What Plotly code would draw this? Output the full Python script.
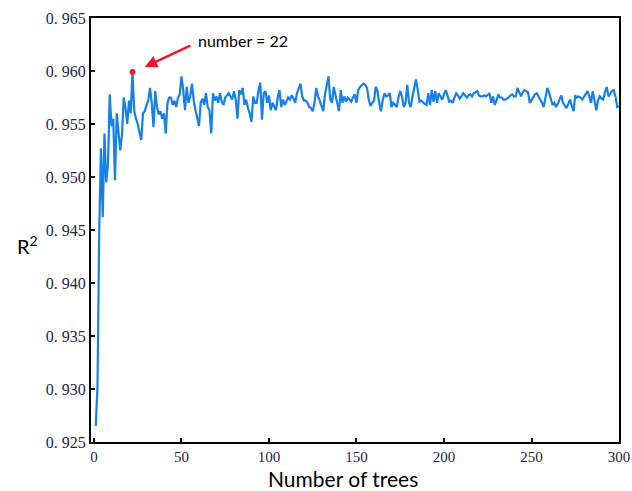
import plotly.graph_objects as go

trees = list(range(1, 301))
r2 = [
    0.9265, 0.9302, 0.9450, 0.9527, 0.9462, 0.9541, 0.9495, 0.9512, 0.9578, 0.9548,
    0.9555, 0.9497, 0.9560, 0.9545, 0.9525, 0.9540, 0.9575, 0.9565, 0.9550, 0.9572,
    0.9560, 0.9599, 0.9562, 0.9555, 0.9550, 0.9542, 0.9535, 0.9560, 0.9562, 0.9568,
    0.9572, 0.9584, 0.9570, 0.9547, 0.9581, 0.9566, 0.9559, 0.9562, 0.9555, 0.9560,
    0.9541, 0.9570, 0.9575, 0.9575, 0.9568, 0.9572, 0.9566, 0.9575, 0.9578, 0.9595,
    0.9582, 0.9563, 0.9585, 0.9570, 0.9576, 0.9588, 0.9572, 0.9563, 0.9555, 0.9548,
    0.9570, 0.9574, 0.9568, 0.9579, 0.9566, 0.9563, 0.9541, 0.9579, 0.9572, 0.9576,
    0.9570, 0.9579, 0.9571, 0.9568, 0.9575, 0.9577, 0.9579, 0.9576, 0.9573, 0.9581,
    0.9573, 0.9555, 0.9582, 0.9578, 0.9584, 0.9568, 0.9573, 0.9565, 0.9560, 0.9552,
    0.9576, 0.9570, 0.9570, 0.9582, 0.9589, 0.9554, 0.9579, 0.9581, 0.9570, 0.9577,
    0.9563, 0.9570, 0.9566, 0.9563, 0.9575, 0.9582, 0.9566, 0.9573, 0.9568, 0.9571,
    0.9575, 0.9573, 0.9577, 0.9574, 0.9570, 0.9579, 0.9584, 0.9588, 0.9576, 0.9572,
    0.9572, 0.9570, 0.9566, 0.9565, 0.9562, 0.9570, 0.9584, 0.9576, 0.9572, 0.9566,
    0.9562, 0.9578, 0.9586, 0.9595, 0.9573, 0.9570, 0.9585, 0.9578, 0.9570, 0.9562,
    0.9582, 0.9570, 0.9576, 0.9571, 0.9575, 0.9573, 0.9571, 0.9575, 0.9578, 0.9570,
    0.9582, 0.9585, 0.9587, 0.9588, 0.9587, 0.9584, 0.9573, 0.9567, 0.9570, 0.9572,
    0.9585, 0.9581, 0.9570, 0.9562, 0.9573, 0.9579, 0.9576, 0.9577, 0.9579, 0.9566,
    0.9570, 0.9568, 0.9566, 0.9575, 0.9581, 0.9576, 0.9566, 0.9570, 0.9587, 0.9570,
    0.9566, 0.9576, 0.9585, 0.9592, 0.9582, 0.9571, 0.9572, 0.9570, 0.9569, 0.9568,
    0.9579, 0.9568, 0.9582, 0.9571, 0.9581, 0.9570, 0.9579, 0.9576, 0.9573, 0.9578,
    0.9582, 0.9577, 0.9571, 0.9572, 0.9570, 0.9575, 0.9579, 0.9577, 0.9574, 0.9576,
    0.9579, 0.9577, 0.9575, 0.9577, 0.9578, 0.9576, 0.9579, 0.9580, 0.9581, 0.9577,
    0.9576, 0.9576, 0.9577, 0.9576, 0.9578, 0.9579, 0.9570, 0.9576, 0.9568, 0.9572,
    0.9578, 0.9575, 0.9575, 0.9573, 0.9573, 0.9574, 0.9575, 0.9577, 0.9578, 0.9576,
    0.9576, 0.9584, 0.9579, 0.9576, 0.9580, 0.9582, 0.9581, 0.9580, 0.9570, 0.9573,
    0.9576, 0.9578, 0.9579, 0.9576, 0.9574, 0.9570, 0.9566, 0.9575, 0.9584, 0.9580,
    0.9574, 0.9568, 0.9570, 0.9566, 0.9569, 0.9573, 0.9577, 0.9570, 0.9568, 0.9565,
    0.9569, 0.9573, 0.9567, 0.9562, 0.9577, 0.9575, 0.9576, 0.9575, 0.9573, 0.9576,
    0.9578, 0.9581, 0.9576, 0.9570, 0.9581, 0.9572, 0.9563, 0.9572, 0.9576, 0.9574,
    0.9573, 0.9580, 0.9585, 0.9576, 0.9579, 0.9581, 0.9582, 0.9576, 0.9566, 0.9567,
]

best_n = 22
best_r2 = r2[best_n - 1]

x_ticks = [0, 50, 100, 150, 200, 250, 300]
y_ticks = [0.925, 0.930, 0.935, 0.940, 0.945, 0.950, 0.955, 0.960, 0.965]
y_tick_text = ["0. 925", "0. 930", "0. 935", "0. 940", "0. 945", "0. 950", "0. 955", "0. 960", "0. 965"]

fig = go.Figure()
fig.add_trace(go.Scatter(x=trees, y=r2, mode="lines",
                         line=dict(color="#1480ea", width=2.2), showlegend=False))
fig.add_trace(go.Scatter(x=[best_n], y=[best_r2], mode="markers",
                         marker=dict(color="#e8213a", size=6), showlegend=False))

serif = "Liberation Serif, DejaVu Serif, serif"
fig.update_xaxes(range=[-1.7, 300], tickvals=x_ticks, ticks="inside", ticklen=4,
                 tickwidth=1.5, tickcolor="black", showline=True, linecolor="black",
                 linewidth=2, mirror=True, showgrid=False, zeroline=False,
                 tickfont=dict(family=serif, size=15, color="#25254a"), automargin=False)
fig.update_yaxes(range=[0.925, 0.965], tickvals=y_ticks, ticktext=y_tick_text,
                 ticks="inside", ticklen=4, tickwidth=1.5, tickcolor="black",
                 showline=True, linecolor="black", linewidth=2, mirror=True,
                 showgrid=False, zeroline=False,
                 tickfont=dict(family=serif, size=16, color="#25254a"), automargin=False)

sans = "Lato, Open Sans, sans-serif"
fig.add_annotation(x=29, y=0.96038, xref="x", yref="y", text="", showarrow=True,
                   arrowhead=2, arrowsize=1, arrowwidth=2.5, arrowcolor="#f0182e",
                   ax=47, ay=-22)
fig.add_annotation(x=196, y=41, text="number = 22",
                   showarrow=False, xanchor="left", yanchor="middle",
                   font=dict(family=sans, size=16, color="black"))
fig.add_annotation(x=27, y=245, text="R<sup>2</sup>", showarrow=False,
                   xanchor="center", yanchor="middle",
                   font=dict(family=sans, size=20, color="black"))
fig.add_annotation(x=343, y=478, text="Number of trees", showarrow=False,
                   xanchor="center", yanchor="middle",
                   font=dict(family=sans, size=21, color="black"))

# convert pixel-placed annotations to paper coords
L, R, T, B = 91, 13, 18, 49
W, H = 632, 491
pw, ph = W - L - R, H - T - B
for ann in fig.layout.annotations[1:]:
    px, py = ann.x, ann.y
    ann.xref = "paper"
    ann.yref = "paper"
    ann.x = (px - L) / pw
    ann.y = (H - B - py) / ph

fig.update_layout(width=W, height=H,
                  margin=dict(l=L, r=R, t=T, b=B, autoexpand=False),
                  plot_bgcolor="white", paper_bgcolor="white")

fig.write_html("out.html", config={"displayModeBar": False},
               post_script="document.body.style.margin='0';document.body.style.overflow='hidden';")
